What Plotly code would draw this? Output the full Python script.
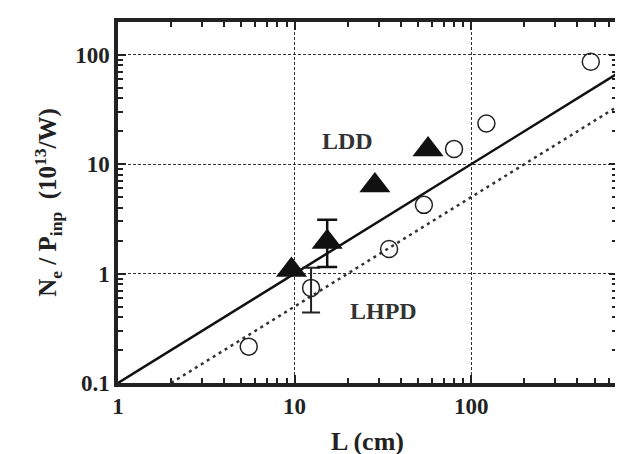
import math
import plotly.graph_objects as go

# LDD (filled triangles)
ldd_L = [9.6, 15.3, 28.5, 57.0]
ldd_N = [1.08, 1.95, 6.4, 13.6]
# error bar on one LDD point
ldd_err_L = [15.3]
ldd_err_N = [1.95]
ldd_err_plus = [1.15]
ldd_err_minus = [0.8]

# LHPD (open circles)
lhpd_L = [5.5, 12.4, 34.3, 54.0, 80.0, 122.0, 476.0]
lhpd_N = [0.215, 0.74, 1.68, 4.25, 13.8, 23.6, 86.5]
# error bar on one LHPD point
lhpd_err_L = [12.4]
lhpd_err_N = [0.74]
lhpd_err_plus = [0.39]
lhpd_err_minus = [0.30]

# Fit lines (end points)
fit_ldd_L = [1.0, 670.0]
fit_ldd_N = [0.1, 67.0]
fit_lhpd_L = [2.0, 670.0]
fit_lhpd_N = [0.1, 33.5]

# Text labels: (text, L, N)
labels = [("LDD", 20.0, 16.4), ("LHPD", 32.0, 0.46)]

x_ticks = [1, 10, 100]
x_tick_labels = ["1", "10", "100"]
y_ticks = [0.1, 1, 10, 100]
y_tick_labels = ["0.1", "1", "10", "100"]

X_RANGE = [0, 2.826]
Y_RANGE = [-1, 2.30]

FONT = "Liberation Serif"
INK = "#222222"
fig = go.Figure()

fig.add_trace(go.Scatter(x=fit_ldd_L, y=fit_ldd_N, mode="lines",
                         line=dict(color="#111111", width=2.5), showlegend=False))
fig.add_trace(go.Scatter(x=fit_lhpd_L, y=fit_lhpd_N, mode="lines",
                         line=dict(color="#333333", width=2.5, dash="3px,4px"), showlegend=False))

fig.add_trace(go.Scatter(
    x=lhpd_err_L, y=lhpd_err_N, mode="markers", marker=dict(size=1, opacity=0),
    error_y=dict(type="data", symmetric=False, array=lhpd_err_plus, arrayminus=lhpd_err_minus,
                 color=INK, thickness=2, width=9),
    showlegend=False, hoverinfo="skip"))
fig.add_trace(go.Scatter(
    x=lhpd_L, y=lhpd_N, mode="markers",
    marker=dict(symbol="circle-open", size=17, color=INK, line=dict(width=1.5, color=INK)),
    showlegend=False))

fig.add_trace(go.Scatter(
    x=ldd_err_L, y=ldd_err_N, mode="markers", marker=dict(size=1, opacity=0),
    error_y=dict(type="data", symmetric=False, array=ldd_err_plus, arrayminus=ldd_err_minus,
                 color="#111111", thickness=2.5, width=10),
    showlegend=False, hoverinfo="skip"))
fig.add_trace(go.Scatter(
    x=ldd_L, y=ldd_N, mode="markers",
    marker=dict(symbol="triangle-up", size=27, color="#111111"),
    showlegend=False))

# invisible traces that hold the tick-only overlay axes
for xa, ya in [("x", "y2"), ("x", "y3"), ("x2", "y"), ("x3", "y")]:
    fig.add_trace(go.Scatter(x=[x_ticks[1]], y=[y_ticks[1]], xaxis=xa, yaxis=ya, mode="markers",
                             marker=dict(size=1, opacity=0), showlegend=False, hoverinfo="skip"))

frame = dict(type="log", showline=True, linecolor=INK, linewidth=3.5, zeroline=False)
tick_only = dict(
    ticks="inside", ticklen=8, tickwidth=2, tickcolor=INK, mirror="allticks",
    minor=dict(ticks="inside", ticklen=5, tickwidth=2, tickcolor=INK, dtick="D1", showgrid=False),
    showticklabels=False, showgrid=False, **frame,
)
grid = dict(showgrid=True, gridcolor="#333333", gridwidth=1.2, griddash="3px,2px")
tick_font = dict(family=FONT, size=23, color=INK, weight="bold")

fig.update_layout(
    xaxis=dict(range=X_RANGE, tickvals=x_ticks, ticktext=x_tick_labels, ticks="", mirror=True,
               tickfont=tick_font,
               title=dict(text="<b>L (cm)</b>", font=dict(family=FONT, size=26, color=INK), standoff=14),
               **grid, **frame),
    yaxis=dict(range=Y_RANGE, tickvals=y_ticks, ticktext=y_tick_labels, ticks="", mirror=True,
               tickfont=tick_font,
               title=dict(text="<b>N<sub>e</sub> / P<sub>inp</sub>  (10<sup>13</sup>/W)</b>",
                          font=dict(family=FONT, size=25, color=INK), standoff=12),
               **grid, **frame),
    xaxis2=dict(overlaying="x", side="bottom", anchor="y", range=X_RANGE, tickvals=x_ticks, **tick_only),
    xaxis3=dict(overlaying="x", side="top", anchor="y", range=X_RANGE, tickvals=x_ticks, **tick_only),
    yaxis2=dict(overlaying="y", side="left", anchor="x", range=Y_RANGE, tickvals=y_ticks, **tick_only),
    yaxis3=dict(overlaying="y", side="right", anchor="x", range=Y_RANGE, tickvals=y_ticks, **tick_only),
)

for txt, lx, ly in labels:
    fig.add_annotation(x=math.log10(lx), y=math.log10(ly), xref="x", yref="y",
                       text="<b>%s</b>" % txt, showarrow=False,
                       font=dict(family=FONT, size=24, color="#333333"))

fig.update_layout(
    width=623, height=454,
    margin=dict(l=110, r=10, t=11, b=74),
    paper_bgcolor="white", plot_bgcolor="white",
    font=dict(family=FONT, color=INK),
)

fig.write_html("out.html")
